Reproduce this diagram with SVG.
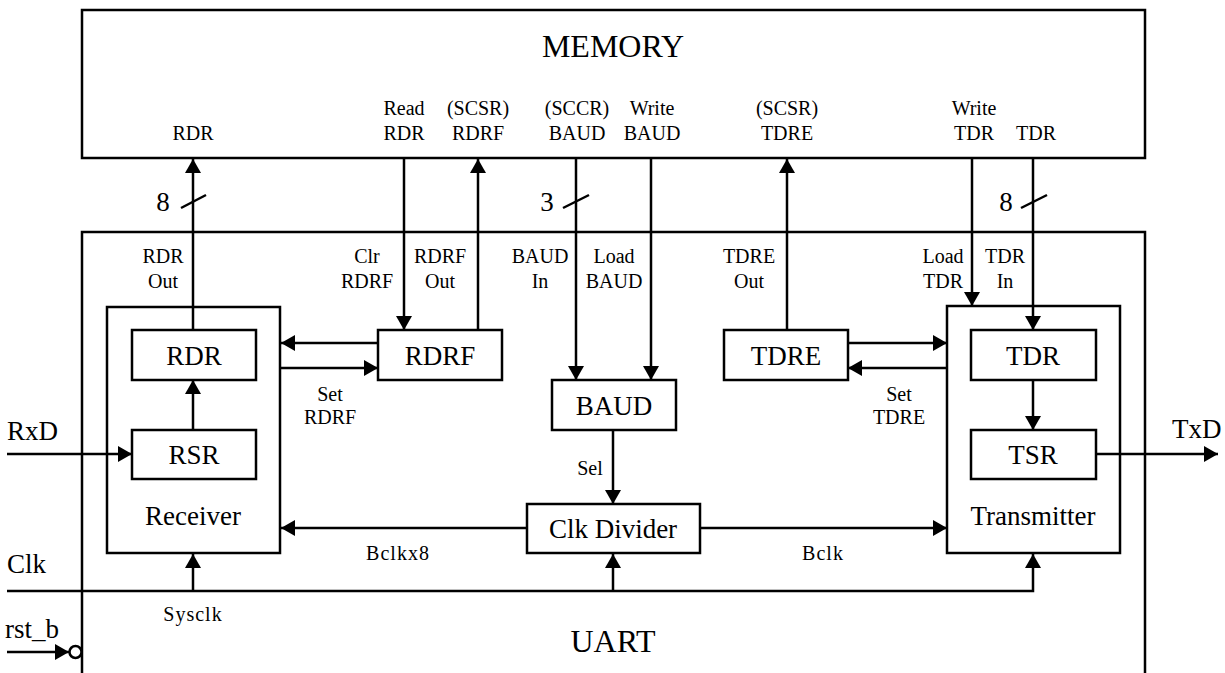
<svg xmlns="http://www.w3.org/2000/svg" width="1225" height="673" viewBox="0 0 1225 673">
<style>
.box{fill:none;stroke:#000;stroke-width:2.5}
.ln{fill:none;stroke:#000;stroke-width:2.5}
.arr{fill:none;stroke:#000;stroke-width:2.5;marker-end:url(#ah)}
text{font-family:"Liberation Serif","Times New Roman",serif;fill:#000}
.big{font-size:32px;text-anchor:middle}
.lbl{font-size:27px;text-anchor:middle}
.sm{font-size:20px;text-anchor:middle}
.io{font-size:27px}
</style>
<defs>
<marker id="ah" markerUnits="userSpaceOnUse" markerWidth="14" markerHeight="16" viewBox="0 0 14 16" refX="14" refY="8" orient="auto">
<path d="M0,0 L14,8 L0,16 z" fill="#000"/>
</marker>
</defs>
<rect width="1225" height="673" fill="#fff"/>

<g id="memory">
<rect class="box" x="82" y="10" width="1063" height="148"/>
<text class="big" x="613" y="57">MEMORY</text>
<text class="sm" x="193" y="140">RDR</text>
<text class="sm" x="404" y="115">Read</text><text class="sm" x="404" y="140">RDR</text>
<text class="sm" x="478" y="115">(SCSR)</text><text class="sm" x="478" y="140">RDRF</text>
<text class="sm" x="577" y="115">(SCCR)</text><text class="sm" x="577" y="140">BAUD</text>
<text class="sm" x="652" y="115">Write</text><text class="sm" x="652" y="140">BAUD</text>
<text class="sm" x="787" y="115">(SCSR)</text><text class="sm" x="787" y="140">TDRE</text>
<text class="sm" x="974" y="115">Write</text><text class="sm" x="974" y="140">TDR</text>
<text class="sm" x="1036" y="140">TDR</text>
</g>

<g id="uart">
<path class="ln" d="M82,673 V232 H1145 V673"/>
<text class="big" x="613" y="652">UART</text>
<text class="sm" x="163" y="263">RDR</text><text class="sm" x="163" y="288">Out</text>
<text class="sm" x="367" y="263">Clr</text><text class="sm" x="367" y="288">RDRF</text>
<text class="sm" x="440" y="263">RDRF</text><text class="sm" x="440" y="288">Out</text>
<text class="sm" x="540" y="263">BAUD</text><text class="sm" x="540" y="288">In</text>
<text class="sm" x="614" y="263">Load</text><text class="sm" x="614" y="288">BAUD</text>
<text class="sm" x="749" y="263">TDRE</text><text class="sm" x="749" y="288">Out</text>
<text class="sm" x="943" y="263">Load</text><text class="sm" x="943" y="288">TDR</text>
<text class="sm" x="1005" y="263">TDR</text><text class="sm" x="1005" y="288">In</text>
</g>

<g id="receiver">
<rect class="box" x="107" y="307" width="173" height="246"/>
<text class="lbl" x="193" y="525">Receiver</text>
</g>
<g id="rdr">
<rect class="box" x="132" y="330" width="124" height="50"/>
<text class="lbl" x="194" y="365">RDR</text>
</g>
<g id="rsr">
<rect class="box" x="132" y="430" width="124" height="49"/>
<text class="lbl" x="194" y="464">RSR</text>
</g>
<g id="rdrf">
<rect class="box" x="378" y="330" width="124" height="50"/>
<text class="lbl" x="440" y="365">RDRF</text>
</g>
<g id="baud">
<rect class="box" x="552" y="380" width="124" height="50"/>
<text class="lbl" x="614" y="415">BAUD</text>
</g>
<g id="clkdiv">
<rect class="box" x="527" y="504" width="173" height="49"/>
<text class="lbl" x="613" y="538">Clk Divider</text>
</g>
<g id="tdre">
<rect class="box" x="724" y="330" width="124" height="50"/>
<text class="lbl" x="786" y="365">TDRE</text>
</g>
<g id="transmitter">
<rect class="box" x="947" y="306" width="173" height="247"/>
<text class="lbl" x="1033" y="525">Transmitter</text>
</g>
<g id="tdr">
<rect class="box" x="971" y="330" width="125" height="50"/>
<text class="lbl" x="1033" y="365">TDR</text>
</g>
<g id="tsr">
<rect class="box" x="971" y="430" width="125" height="49"/>
<text class="lbl" x="1033" y="464">TSR</text>
</g>

<g id="ports">
<text class="io" x="7" y="440">RxD</text>
<text class="io" x="1172" y="438">TxD</text>
<text class="io" x="7" y="573">Clk</text>
<text class="io" x="5" y="638">rst_b</text>
</g>

<g id="connectors">
<line class="arr" x1="193" y1="330" x2="193" y2="159"/>
<line class="ln" x1="181" y1="208" x2="206" y2="195"/>
<text class="io" x="163" y="211" text-anchor="middle">8</text>
<line class="arr" x1="404" y1="158" x2="404" y2="330"/>
<line class="arr" x1="478" y1="330" x2="478" y2="159"/>
<line class="arr" x1="576" y1="158" x2="576" y2="380"/>
<line class="ln" x1="563" y1="208" x2="589" y2="195"/>
<text class="io" x="547" y="211" text-anchor="middle">3</text>
<line class="arr" x1="651" y1="158" x2="651" y2="380"/>
<line class="arr" x1="787" y1="330" x2="787" y2="159"/>
<line class="arr" x1="972" y1="158" x2="972" y2="306"/>
<line class="arr" x1="1033" y1="158" x2="1033" y2="330"/>
<line class="ln" x1="1021" y1="208" x2="1047" y2="195"/>
<text class="io" x="1006" y="211" text-anchor="middle">8</text>

<line class="arr" x1="193" y1="430" x2="193" y2="380"/>
<line class="arr" x1="378" y1="343" x2="281" y2="343"/>
<line class="arr" x1="280" y1="368" x2="378" y2="368"/>
<text class="sm" x="330" y="401">Set</text><text class="sm" x="330" y="424">RDRF</text>

<line class="arr" x1="848" y1="343" x2="947" y2="343"/>
<line class="arr" x1="947" y1="368" x2="848" y2="368"/>
<text class="sm" x="899" y="401">Set</text><text class="sm" x="899" y="424">TDRE</text>

<line class="arr" x1="1033" y1="380" x2="1033" y2="430"/>
<line class="arr" x1="1096" y1="454" x2="1218" y2="454"/>
<line class="arr" x1="7" y1="454" x2="132" y2="454"/>

<line class="arr" x1="613" y1="430" x2="613" y2="504"/>
<text class="sm" x="590" y="475">Sel</text>

<line class="arr" x1="527" y1="528" x2="281" y2="528"/>
<text class="sm" x="398" y="560" letter-spacing="1">Bclkx8</text>
<line class="arr" x1="700" y1="528" x2="947" y2="528"/>
<text class="sm" x="823" y="560" letter-spacing="1">Bclk</text>

<path class="arr" d="M7,591 H1033 V554"/>
<line class="arr" x1="193" y1="591" x2="193" y2="554"/>
<line class="arr" x1="613" y1="591" x2="613" y2="554"/>
<text class="sm" x="193" y="621" letter-spacing="1">Sysclk</text>

<line class="arr" x1="7" y1="652" x2="69" y2="652"/>
<circle cx="75.5" cy="652" r="6" fill="#fff" stroke="#000" stroke-width="2.5"/>
</g>
</svg>
